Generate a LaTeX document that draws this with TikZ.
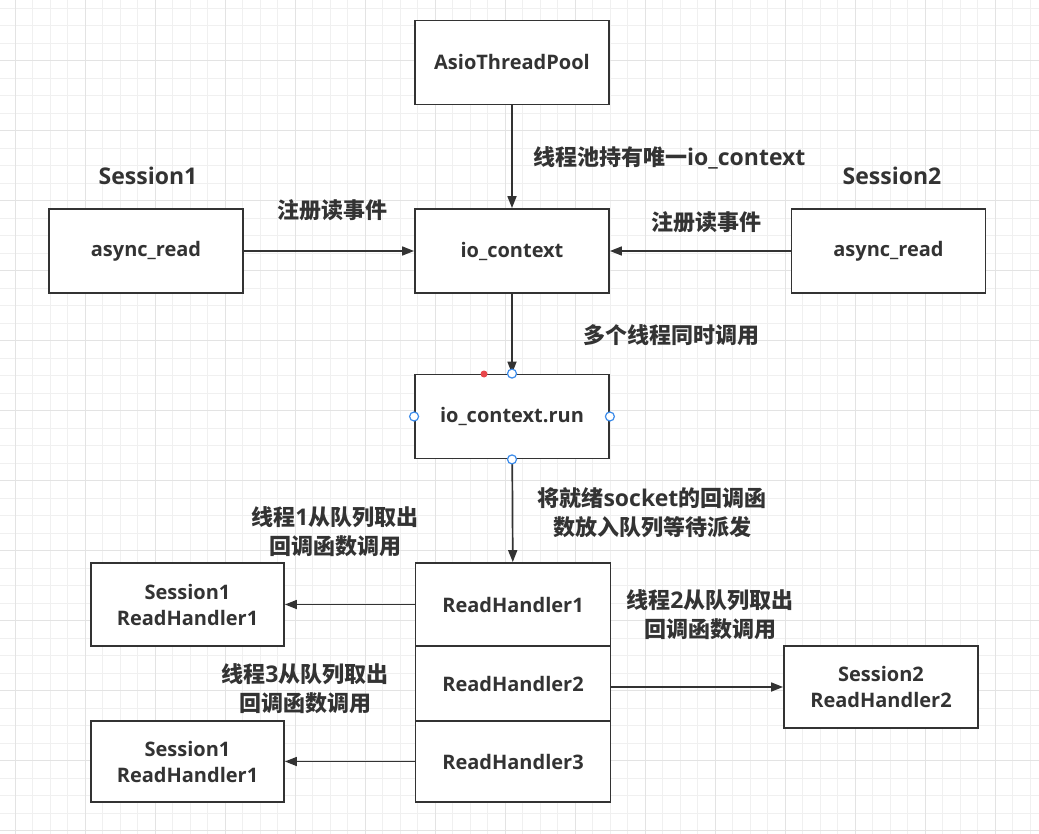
\documentclass[tikz,border=0pt]{standalone}
\usepackage{fontspec}
\setmainfont{Open Sans}
\newfontfamily\cjk{Noto Sans CJK SC}[Scale=1.1]
\newcommand\Lg[1]{{\fontsize{23}{29}\selectfont #1}}
\usetikzlibrary{arrows.meta}
\definecolor{ink}{HTML}{333333}
\definecolor{gridminor}{HTML}{F0F0F0}
\definecolor{gridmajor}{HTML}{E3E3E3}
\definecolor{handle}{HTML}{3B8BEA}
\definecolor{reddot}{HTML}{E8474B}
\begin{document}
\begin{tikzpicture}[x=1pt,y=-1pt,
  box/.style={draw=ink, line width=1.8pt, fill=white, minimum width=194pt, minimum height=84pt, inner sep=0pt, align=center, text=ink, font=\fontsize{20}{26}\selectfont\bfseries},
  lbl/.style={text=ink, inner sep=0pt, align=center, font=\fontsize{20}{29}\selectfont\bfseries},
  conn/.style={draw=ink, line width=1.7pt, -{Triangle[length=12pt,width=9pt]}},
  hnd/.style={circle, draw=handle, line width=1.2pt, fill=white, minimum size=9pt, inner sep=0pt},
  rdot/.style={circle, fill=reddot, minimum size=7pt, inner sep=0pt}]
\useasboundingbox (0,0) rectangle (1039,834);
\fill[white] (0,0) rectangle (1039,834);
% grid
\foreach \k in {0,...,58} { \pgfmathsetmacro\xx{15+17.5*\k} \draw[gridminor, line width=1pt] (\xx,0) -- (\xx,834); }
\foreach \k in {0,...,47} { \pgfmathsetmacro\yy{8.2+17.5*\k} \draw[gridminor, line width=1pt] (0,\yy) -- (1039,\yy); }
\foreach \k in {0,4,...,56} { \pgfmathsetmacro\xx{15+17.5*\k} \draw[gridmajor, line width=1pt] (\xx,0) -- (\xx,834); }
\foreach \k in {3,7,...,47} { \pgfmathsetmacro\yy{8.2+17.5*\k} \draw[gridmajor, line width=1pt] (0,\yy) -- (1039,\yy); }
% boxes
\node[box] (pool) at (512,62.5) {AsioThreadPool};
\node[box] (ioc) at (512,251) {io\_context};
\node[box] (ar1) at (146,251) {async\_read};
\node[box] (ar2) at (888.5,251) {async\_read};
\node[box] (run) at (512,416.5) {io\_context.run};
\node[box, minimum width=195pt, minimum height=83pt] (rh1) at (513,604.5) {ReadHandler1};
\node[box, minimum width=195pt, minimum height=75pt] (rh2) at (513,683.5) {ReadHandler2};
\node[box, minimum width=195pt, minimum height=81pt] (rh3) at (513,761.5) {ReadHandler3};
\node[box, minimum width=193pt, minimum height=83pt] (s1a) at (187.5,604.5) {Session1\\ReadHandler1};
\node[box, minimum width=193pt, minimum height=81pt] (s1b) at (187.5,761.5) {Session1\\ReadHandler1};
\node[box, minimum width=194pt, minimum height=82pt] (s2) at (881,687) {Session2\\ReadHandler2};
% labels
\node[lbl] (sess1) at (148,176) {\Lg{Session1}};
\node[lbl] (sess2) at (892,176) {\Lg{Session2}};
\node[lbl] (reg1) at (332,210) {\cjk 注册读事件};
\node[lbl] (reg2) at (706,222) {\cjk 注册读事件};
\node[lbl, anchor=west] (own) at (533,158) {{\cjk 线程池持有唯一}\Lg{io\_context}};
\node[lbl] (multi) at (671,335) {\cjk 多个线程同时调用};
\node[lbl] (ready) at (652,513) {{\cjk 将就绪}\Lg{socket}{\cjk 的回调函}\\{\cjk 数放入队列等待派发}};
\node[lbl] (t1) at (335,532) {{\cjk 线程}\Lg{1}{\cjk 从队列取出}\\{\cjk 回调函数调用}};
\node[lbl] (t2) at (710,614.5) {{\cjk 线程}\Lg{2}{\cjk 从队列取出}\\{\cjk 回调函数调用}};
\node[lbl] (t3) at (305,688.5) {{\cjk 线程}\Lg{3}{\cjk 从队列取出}\\{\cjk 回调函数调用}};
% connectors
\draw[conn] (pool) -- (ioc);
\draw[conn] (ar1) -- (ioc);
\draw[conn] (ar2) -- (ioc);
\draw[conn] (ioc) -- (run);
\draw[conn] (run) -- (rh1);
\draw[conn] (rh1) -- (s1a);
\draw[conn] (rh2.east |- s2.west) -- (s2.west);
\draw[conn] (rh3) -- (s1b);
% selection handles
\node[hnd] (hn) at (run.north) {};
\node[hnd] (hs) at (run.south) {};
\node[hnd] (hw) at (run.west) {};
\node[hnd] (he) at (run.east) {};
\node[rdot] (rd) at (484,374) {};
\end{tikzpicture}
\end{document}
